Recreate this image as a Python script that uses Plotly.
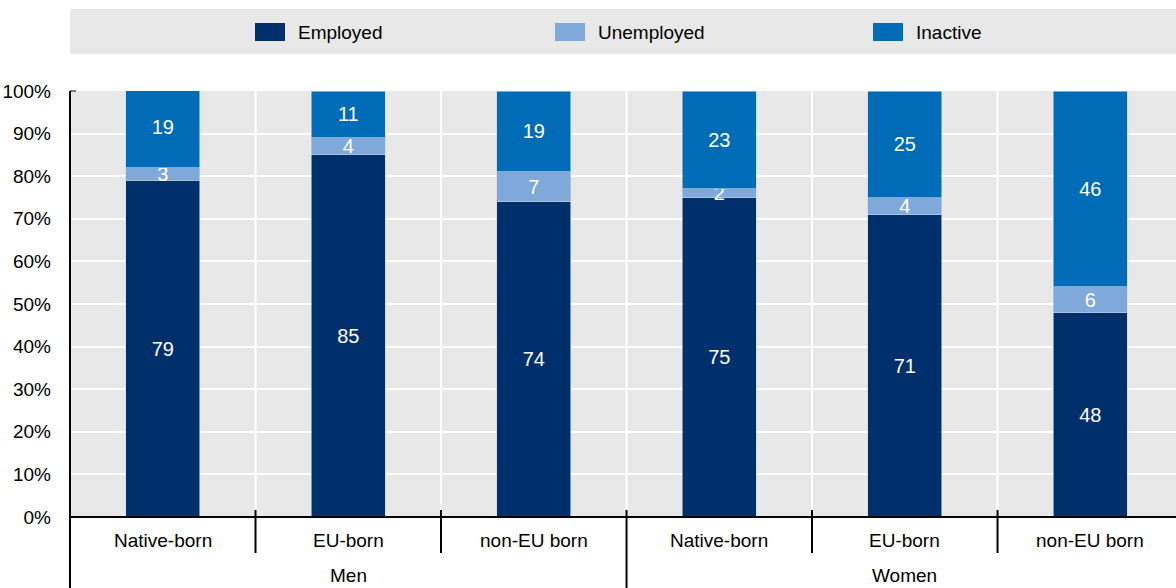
import plotly.graph_objects as go

# Labour market status by place of birth and sex (% of population)
categories = ["Native-born", "EU-born", "non-EU born", "Native-born", "EU-born", "non-EU born"]
groups = ["Men", "Women"]
employed = [79, 85, 74, 75, 71, 48]
unemployed = [3, 4, 7, 2, 4, 6]
inactive = [19, 11, 19, 23, 25, 46]
y_ticks = [0, 10, 20, 30, 40, 50, 60, 70, 80, 90, 100]

C_EMP = "#00306B"
C_UNEMP = "#7FA9DB"
C_INACT = "#006BB7"
BG = "#E8E8E8"
FONT = "Liberation Sans Narrow, Arial Narrow, Liberation Sans, Arial, sans-serif"
FS = 19

W, H = 1176, 588
M_L, M_R, M_T, M_B = 70, 0, 91, 71
PW, PH = W - M_L - M_R, H - M_T - M_B

xs = list(range(len(categories)))

fig = go.Figure()
series = [("Employed", employed, C_EMP), ("Unemployed", unemployed, C_UNEMP), ("Inactive", inactive, C_INACT)]
for name, vals, col in series:
    fig.add_trace(go.Bar(
        x=xs, y=vals, name=name, marker=dict(color=col, line=dict(width=0.6, color="#C9D8EA")),
        width=0.4, text=[str(v) for v in vals], textposition="inside",
        insidetextanchor="middle", constraintext="none", textangle=0,
        textfont=dict(family=FONT, size=FS + 1, color="white"), showlegend=False,
        hoverinfo="skip",
    ))


def px_x(px):
    return (px - M_L) / PW


def px_y(py):
    return (H - M_B - py) / PH


shapes = []
annotations = []

# legend band
shapes.append(dict(type="rect", xref="paper", yref="paper", x0=0, x1=1,
                   y0=px_y(54), y1=px_y(9), fillcolor=BG, line=dict(width=0), layer="below"))
legend_x = [255, 555, 873]
for (name, _, col), lx in zip(series, legend_x):
    shapes.append(dict(type="rect", xref="paper", yref="paper", x0=px_x(lx), x1=px_x(lx + 30),
                       y0=px_y(41), y1=px_y(23), fillcolor=col, line=dict(width=0)))
    annotations.append(dict(x=px_x(lx + 41), y=px_y(32), xref="paper", yref="paper", text=name,
                            showarrow=False, xanchor="left", yanchor="middle",
                            font=dict(family=FONT, size=FS, color="black")))

# vertical white separators between categories
for b in [0.5, 1.5, 2.5, 3.5, 4.5]:
    shapes.append(dict(type="line", xref="x", yref="y", x0=b, x1=b, y0=0, y1=100,
                       line=dict(color="white", width=2), layer="below"))

# axis lines and category dividers below the axis
shapes.append(dict(type="line", xref="paper", yref="paper", x0=0, x1=0, y0=px_y(H), y1=1,
                   line=dict(color="black", width=2)))
shapes.append(dict(type="line", xref="paper", yref="paper", x0=0, x1=px_x(76), y0=1, y1=1,
                   line=dict(color="black", width=1)))
shapes.append(dict(type="line", xref="paper", yref="paper", x0=0, x1=1, y0=0, y1=0,
                   line=dict(color="black", width=2)))
for b in [0.5, 1.5, 3.5, 4.5]:
    shapes.append(dict(type="line", xref="x", yref="paper", x0=b, x1=b, y0=px_y(553), y1=px_y(510),
                       line=dict(color="black", width=2)))
shapes.append(dict(type="line", xref="x", yref="paper", x0=2.5, x1=2.5, y0=px_y(H), y1=px_y(510),
                   line=dict(color="black", width=2)))

# category and group labels
for x, c in zip(xs, categories):
    annotations.append(dict(x=x, y=px_y(540), xref="x", yref="paper", text=c, showarrow=False,
                            xanchor="center", yanchor="middle",
                            font=dict(family=FONT, size=FS, color="black")))
for i, g in enumerate(groups):
    annotations.append(dict(x=1 + 3 * i, y=px_y(575), xref="x", yref="paper", text=g, showarrow=False,
                            xanchor="center", yanchor="middle",
                            font=dict(family=FONT, size=FS, color="black")))

fig.update_layout(
    barmode="stack",
    width=W, height=H,
    margin=dict(l=M_L, r=M_R, t=M_T, b=M_B, pad=0),
    paper_bgcolor="white", plot_bgcolor=BG,
    shapes=shapes, annotations=annotations,
    showlegend=False,
    # the last category runs slightly past the right edge of the page
    xaxis=dict(range=[-0.5, 5.462], showticklabels=False, showgrid=False, zeroline=False,
               ticks="", fixedrange=True),
    yaxis=dict(range=[0, 100], tickvals=y_ticks, ticktext=[f"{v}%" for v in y_ticks],
               showgrid=True, gridcolor="white", gridwidth=2, zeroline=False, ticks="",
               ticklabelstandoff=18, tickfont=dict(family=FONT, size=FS, color="black"),
               fixedrange=True),
)

fig.write_html("out.html")
